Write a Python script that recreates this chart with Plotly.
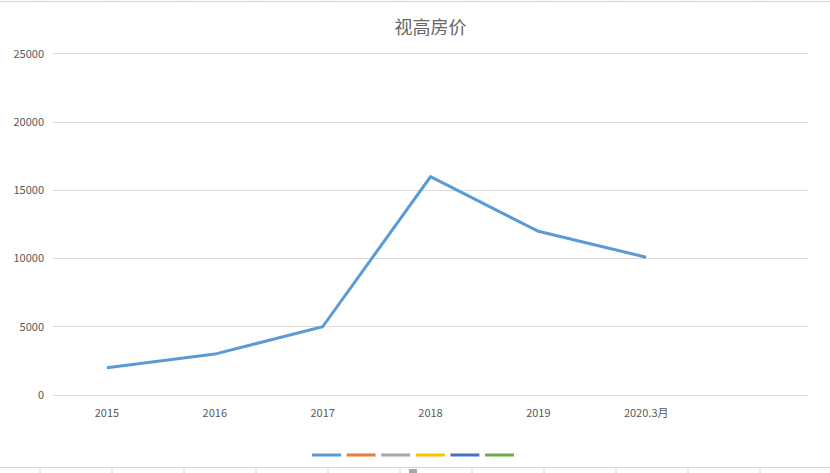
import plotly.graph_objects as go

categories = ["2015", "2016", "2017", "2018", "2019", "2020.3月", ""]
price = [2000, 3000, 5000, 16000, 12000, 10100, None]
series_colors = ["#5B9BD5", "#ED7D31", "#A5A5A5", "#FFC000", "#4472C4", "#70AD47"]
y_ticks = [0, 5000, 10000, 15000, 20000, 25000]

xs = list(range(len(categories)))

fig = go.Figure()
fig.add_trace(go.Scatter(x=xs, y=price, mode="lines", name="视高房价",
                         line=dict(color=series_colors[0], width=3)))

font = "Noto Sans CJK SC, Noto Sans, sans-serif"

# pixel helpers for decoration (plot area geometry)
L, W = 53, 755
T, H = 54, 341
def px_x(p):
    return (p - L) / W
def px_y(p):
    return (T + H - p) / H

shapes = []
# Excel sheet cell borders peeking out at top and bottom
for yy in (1.5, 467.5):
    shapes.append(dict(type="line", xref="paper", yref="paper",
                       x0=px_x(0), x1=px_x(830), y0=px_y(yy), y1=px_y(yy),
                       line=dict(color="#D4D4D4", width=1), layer="below"))
cells = [40, 112, 184, 256, 328, 400, 472, 544, 616, 688, 760]
for cx in cells:
    shapes.append(dict(type="line", xref="paper", yref="paper",
                       x0=px_x(cx), x1=px_x(cx), y0=px_y(0), y1=px_y(2),
                       line=dict(color="#D4D4D4", width=1), layer="below"))
    shapes.append(dict(type="line", xref="paper", yref="paper",
                       x0=px_x(cx), x1=px_x(cx), y0=px_y(467), y1=px_y(473),
                       line=dict(color="#D4D4D4", width=1), layer="below"))
shapes.append(dict(type="rect", xref="paper", yref="paper",
                   x0=px_x(409), x1=px_x(417), y0=px_y(469), y1=px_y(473),
                   fillcolor="#A6A6A6", line=dict(width=0)))

# legend keys (series without labels), drawn as short coloured segments
for i, c in enumerate(series_colors):
    x0 = 312 + i * 34.6
    shapes.append(dict(type="line", xref="paper", yref="paper",
                       x0=px_x(x0), x1=px_x(x0 + 29), y0=px_y(455), y1=px_y(455),
                       line=dict(color=c, width=3)))

fig.update_layout(
    width=830, height=473,
    margin=dict(l=L, r=830 - L - W, t=T, b=473 - T - H),
    paper_bgcolor="white", plot_bgcolor="white",
    title=dict(text="视高房价", x=0.5, xref="paper", xanchor="center",
               y=1 - 28 / 473, yanchor="middle",
               font=dict(family=font, size=18, color="#666666")),
    xaxis=dict(tickmode="array", tickvals=xs[:6], ticktext=categories[:6],
               range=[-0.5, len(categories) - 0.5], showgrid=False,
               zeroline=False, showline=True, mirror=True,
               linecolor="#D9D9D9", linewidth=1, ticks="",
               ticklabelstandoff=8,
               tickfont=dict(family=font, size=11, color="#595959")),
    yaxis=dict(range=[0, 25000], tickvals=y_ticks, showgrid=True,
               gridcolor="#D9D9D9", gridwidth=1, zeroline=False,
               showline=False, ticks="", tickformat="d",
               ticklabelstandoff=8,
               tickfont=dict(family=font, size=11, color="#595959")),
    showlegend=False,
    shapes=shapes,
)

fig.write_html("out.html", config={"displayModeBar": False},
               post_script="document.body.style.margin='0';")
